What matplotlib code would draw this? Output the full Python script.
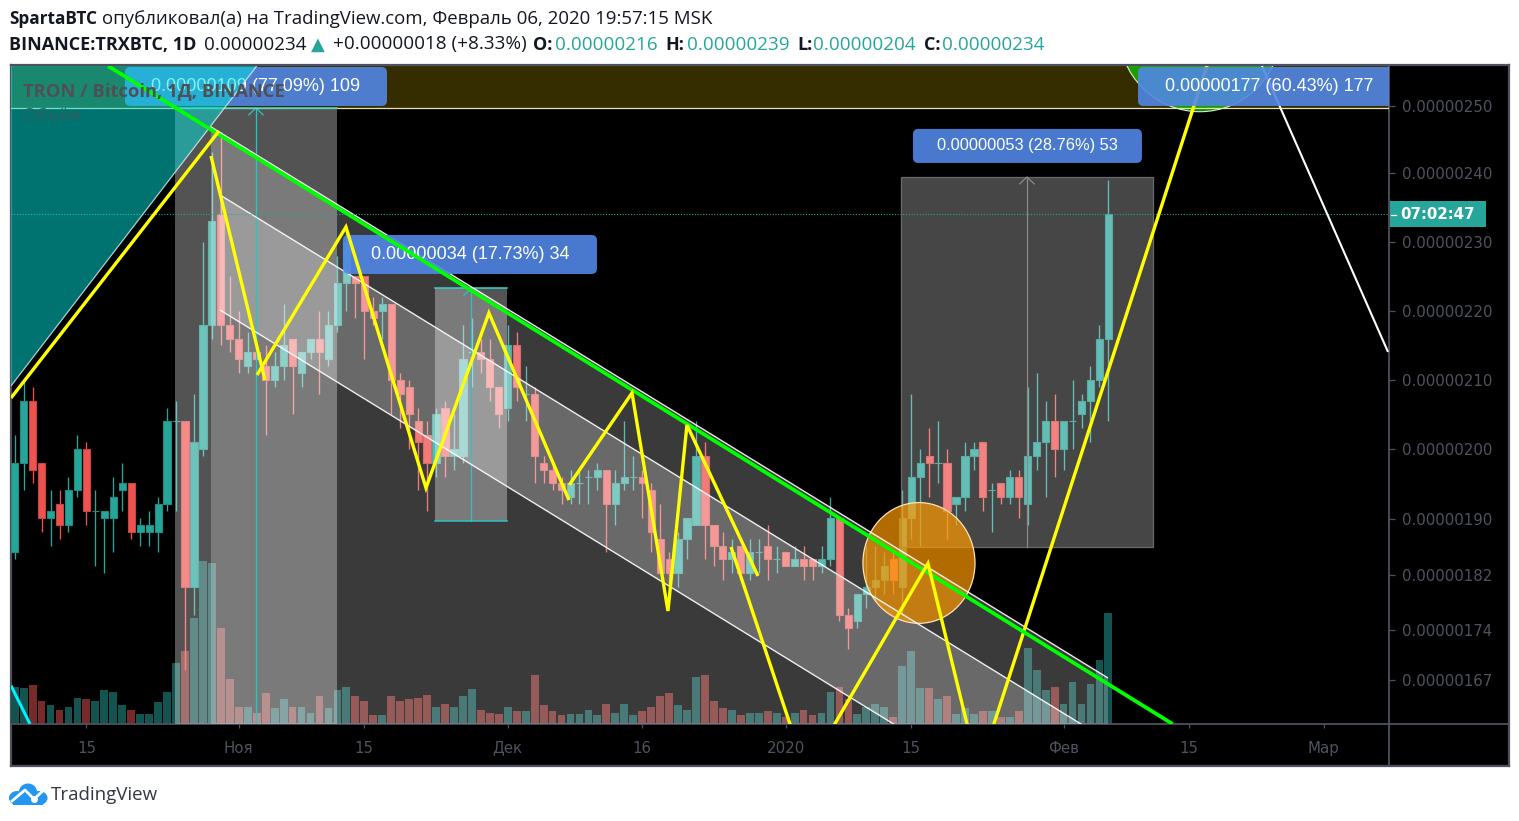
import matplotlib
matplotlib.use("Agg")
import matplotlib.pyplot as plt
from matplotlib.lines import Line2D
from matplotlib.patches import Ellipse, FancyBboxPatch, Polygon, Rectangle

# TRXBTC daily candles from 2019-10-07, prices in satoshi (1e-8 BTC), bar 0 = Oct 7
opens = [185, 198, 207, 198, 190, 192, 189, 194, 200, 191, 190, 190, 194, 195, 188, 188, 188, 192, 204, 204,
         180, 200, 218, 234, 218, 216, 212, 214, 212, 210, 212, 216, 211, 214, 216, 213, 218, 224, 225, 225,
         220, 220, 221, 210, 209, 204, 202, 198, 206, 199, 199, 214, 214, 213, 209, 206, 215, 208, 208, 198,
         197, 195, 193, 195, 196, 196, 197, 192, 195, 196, 196, 194, 187, 184, 182, 187, 189, 199, 189, 186,
         184, 186, 182, 185, 186, 184, 185, 183, 184, 184, 183, 184, 190, 176, 175, 179, 180, 181, 184, 180,
         190, 196, 199, 198, 198, 192, 193, 199, 201, 194, 195, 193, 196, 192, 199, 201, 204, 200, 204, 205,
         207, 210, 216]
highs = [202, 210, 209, 198, 194, 194, 196, 202, 201, 194, 191, 196, 198, 195, 190, 191, 193, 206, 207, 204,
         208, 230, 243, 246, 225, 220, 217, 214, 215, 214, 221, 216, 214, 216, 220, 220, 228, 232, 225, 225,
         222, 222, 221, 211, 210, 206, 204, 206, 207, 205, 218, 219, 216, 216, 209, 218, 217, 212, 209, 199,
         198, 196, 197, 197, 197, 198, 197, 197, 204, 199, 197, 195, 192, 185, 188, 190, 204, 201, 189, 188,
         187, 186, 187, 187, 189, 186, 185, 186, 186, 184, 186, 193, 190, 177, 179, 186, 186, 185, 185, 194,
         208, 200, 203, 204, 200, 193, 201, 201, 201, 195, 195, 197, 197, 209, 211, 207, 208, 204, 210, 208,
         212, 218, 239]
lows = [184, 194, 195, 188, 186, 187, 188, 193, 189, 183, 182, 185, 191, 187, 186, 186, 185, 191, 191, 168,
        176, 199, 216, 215, 214, 211, 211, 213, 202, 209, 210, 205, 209, 213, 208, 212, 217, 220, 219, 213,
        218, 216, 205, 203, 200, 194, 191, 196, 196, 197, 198, 209, 211, 207, 203, 204, 207, 204, 195, 195,
        194, 192, 192, 192, 192, 194, 185, 189, 194, 194, 190, 185, 182, 180, 180, 184, 189, 184, 183, 181,
        182, 182, 181, 182, 181, 182, 183, 183, 181, 181, 182, 183, 175, 171, 174, 177, 178, 179, 179, 176,
        187, 186, 193, 195, 187, 189, 191, 197, 191, 188, 192, 192, 190, 189, 197, 193, 196, 197, 200, 203,
        201, 209, 204]
closes = [198, 207, 197, 190, 191, 189, 194, 200, 191, 191, 191, 193, 195, 188, 189, 189, 192, 204, 204, 180,
          201, 218, 233, 218, 216, 213, 214, 213, 210, 212, 215, 212, 214, 216, 214, 218, 224, 230, 224, 220,
          219, 221, 210, 208, 205, 201, 198, 205, 199, 200, 213, 214, 213, 209, 205, 215, 209, 208, 199, 197,
          195, 194, 195, 195, 196, 197, 192, 195, 196, 196, 195, 188, 182, 182, 187, 190, 199, 189, 186, 184,
          185, 182, 185, 185, 184, 184, 183, 184, 183, 183, 184, 190, 176, 174, 179, 180, 181, 183, 181, 190,
          196, 198, 198, 198, 191, 193, 199, 200, 193, 194, 193, 196, 193, 199, 201, 204, 200, 204, 204, 207,
          210, 216, 234]
volumes = [37, 36, 39, 23, 19, 14, 17, 26, 25, 23, 34, 32, 19, 14, 10, 10, 22, 32, 61, 73,
           106, 163, 161, 96, 45, 17, 17, 11, 31, 16, 25, 17, 17, 11, 28, 16, 34, 37, 28, 23,
           9, 9, 28, 23, 25, 26, 29, 17, 20, 17, 28, 35, 14, 11, 10, 17, 13, 13, 49, 19,
           13, 9, 10, 10, 14, 9, 20, 11, 20, 9, 13, 17, 28, 31, 19, 14, 47, 49, 23, 16,
           14, 9, 11, 11, 13, 11, 7, 11, 14, 9, 11, 32, 37, 25, 10, 17, 20, 17, 7, 58,
           73, 36, 36, 25, 28, 10, 16, 10, 13, 13, 7, 7, 13, 76, 54, 34, 37, 20, 42, 20,
           40, 64, 111]

x_tick_bars = [8, 25, 39, 55, 70, 86, 100, 117, 131, 146]
x_tick_labels = ["15", "Ноя", "15", "Дек", "16", "2020", "15", "Фев", "15", "Мар"]
y_tick_prices = [249.75, 240, 230, 220, 210, 200, 189.9, 181.7, 173.8, 166.5]
y_tick_labels = ["0.00000250", "0.00000240", "0.00000230", "0.00000220", "0.00000210",
                 "0.00000200", "0.00000190", "0.00000182", "0.00000174", "0.00000167"]

# drawing tools on the chart, as (bar, price)
trend_green = [(10.41, 255.5), (129.17, 160.14)]
channel_a = [(21.9, 246.67), (121.95, 166.81)]
channel_b = [(22.9, 236.81), (122, 157.7)]
channel_c = [(22.9, 220.14), (122, 141.0)]
yellow_1 = [(-0.41, 207.39), (22.79, 246.09)]
yellow_2 = [(21.9, 242.46), (27.92, 210.0)]
yellow_3 = [(27.03, 210.72), (36.95, 232.17), (45.88, 194.35), (52.9, 219.71), (61.83, 192.6)]
yellow_4 = [(61.86, 194.78), (68.86, 208.12), (72.87, 176.52), (74.99, 203.48), (82.91, 181.59)]
yellow_5 = [(79.9, 185.8), (86.85, 158.7)]
yellow_6 = [(90.83, 158.7), (101.87, 183.41), (106.5, 158.7)]
yellow_7 = [(108.87, 158.7), (134.45, 261.4)]
white_line = [(139.13, 255.5), (153.19, 214.06)]
cyan_line = [(-0.41, 165.7), (1.71, 160.14)]
teal_wedge = [(-0.41, 209.13), (27.0, 255.5), (-0.41, 255.5)]

# price range boxes: left bar, right bar, top price, bottom price
range_box_1 = (17.88, 35.95, 249.42, 150)
range_box_2 = (46.88, 54.91, 223.26, 189.57)
range_box_3 = (98.86, 126.97, 239.42, 185.8)

# blue labels: left bar, right bar, low price, high price, text, text centre bar, text size
range_labels = [
    (12.3, 41.53, 249.71, 255.36, "0.00000109 (77.09%) 109", 26.92, 13.0),
    (36.62, 64.95, 225.36, 231.01, "0.00000034 (17.73%) 34", 50.8, 13.0),
    (100.2, 125.74, 241.45, 246.38, "0.00000053 (28.76%) 53", 112.92, 11.8),
    (125.3, 154.5, 249.71, 255.36, "0.00000177 (60.43%) 177", 139.9, 13.0),
]

W, H = 1519, 821
AX_L, AX_R, AX_T, AX_B = 11, 1389, 66, 724
GREEN, RED = "#26a69a", "#ef5350"
AXIS_COL = "#4e5160"
TEXT_COL = "#50535f"


def fx(x):
    return x / W


def fy(y):
    return 1 - y / H


def add_line(ax, pts, color, lw, z, alpha=1.0):
    xs = [p[0] for p in pts]
    ys = [p[1] for p in pts]
    ax.plot(xs, ys, color=color, lw=lw, zorder=z, alpha=alpha, solid_capstyle="butt", solid_joinstyle="miter")


fig = plt.figure(figsize=(W / 100, H / 100), dpi=100, facecolor="white")

# black frame with both price and time scales
frame = fig.add_axes([fx(10.5), fy(766), (1509 - 10.5) / W, (766 - 65.5) / H], facecolor="black", zorder=0)
frame.set_xticks([])
frame.set_yticks([])
for s in frame.spines.values():
    s.set_color(AXIS_COL)
    s.set_linewidth(1.6)

pos = [fx(AX_L), fy(AX_B), (AX_R - AX_L) / W, (AX_B - AX_T) / H]
ax_vol = fig.add_axes(pos, zorder=1, facecolor="black")
ax = fig.add_axes(pos, zorder=2)
ax.patch.set_visible(False)

x_min, x_max = -0.41, 153.3
ax.set_xlim(x_min, x_max)
ax.set_ylim(160.14, 255.5)
ax_vol.set_xlim(x_min, x_max)
ax_vol.set_ylim(0, AX_B - AX_T)
ax_vol.axis("off")

bars = list(range(len(opens)))
colors = [GREEN if c >= o else RED for o, c in zip(opens, closes)]
edges = ["#1f8c82" if c >= o else "#c9433f" for o, c in zip(opens, closes)]

ax_vol.bar(bars, volumes, width=0.87, color=["#135350" if c == GREEN else "#772a28" for c in colors])

# candles
ax.vlines(bars, lows, highs, colors=colors, lw=0.95, zorder=2)
ax.bar(bars, [c - o for o, c in zip(opens, closes)], bottom=opens, width=0.8,
       color=colors, edgecolor=edges, linewidth=0.8, zorder=3)

# translucent areas painted over the candles
ax.add_patch(Rectangle((-1, 249.42), 160, 12, color="#ffd400", alpha=0.21, lw=0, zorder=4))
a0, a1 = channel_a
ax.add_patch(Polygon([a0, a1, (a1[0], a1[1] - 200), (a0[0], a0[1] - 200)], color="white", alpha=0.23, lw=0, zorder=5))
b0, b1 = channel_b
c0, c1 = channel_c
ax.add_patch(Polygon([b0, b1, c1, c0], color="white", alpha=0.24, lw=0, zorder=5))

for left, right, top, bottom in [range_box_1, range_box_2]:
    ax.add_patch(Rectangle((left, bottom), right - left, top - bottom, color="white", alpha=0.33, lw=0, zorder=6))
    mid = (left + right) / 2
    ax.plot([mid, mid], [bottom, top], color="#2bc4c4", lw=0.9, zorder=7)
    ax.plot([mid - 0.8, mid, mid + 0.8], [top - 1, top, top - 1], color="#2bc4c4", lw=0.9, zorder=7)
    ax.plot([left, right], [bottom, bottom], color="#2bc4c4", lw=1.1, zorder=7)

left, right, top, bottom = range_box_3
ax.add_patch(Rectangle((left, bottom), right - left, top - bottom, facecolor=(1, 1, 1, 0.28),
                       edgecolor="#6a6a6a", lw=0.9, zorder=6))
mid = (left + right) / 2
ax.plot([mid, mid], [bottom, top], color="#8a8a8a", lw=0.9, zorder=7)
ax.plot([mid - 0.8, mid, mid + 0.8], [top - 1, top, top - 1], color="#8a8a8a", lw=0.9, zorder=7)

# circles (px size differs per axis, so they are ellipses in data units)
ax.add_patch(Ellipse((132.2, 260.6), 18.05, 23.45, facecolor=(0.05, 0.95, 0, 0.58),
                     edgecolor="#d8f0d0", lw=0.8, zorder=7))
ax.add_patch(Ellipse((100.87, 183.48), 12.5, 17.5, facecolor=(1, 0.6, 0, 0.7),
                     edgecolor="#ffe2b8", lw=0.9, zorder=7))

# channel lines and level lines
add_line(ax, channel_a, "white", 1.0, 9, 0.9)
add_line(ax, channel_b, "white", 1.0, 9, 0.9)
add_line(ax, channel_c, "white", 1.0, 9, 0.9)
ax.axhline(249.42, color="#e6e2b4", lw=0.9, zorder=8)
for left, right, top, bottom in [range_box_1, range_box_2]:
    ax.plot([left, right], [top, top], color="#2fd6d0", lw=1.1, zorder=8)
ax.axhline(closes[-1], color=GREEN, lw=0.8, ls=(0, (1, 1.5)), zorder=9)

# these two run under the last blue label
add_line(ax, yellow_7, "#ffff00", 2.4, 9)
add_line(ax, white_line, "white", 1.5, 9)

# blue labels
for left, right, low, high, text, text_bar, size in range_labels:
    ax.add_patch(FancyBboxPatch((left, low), right - left, high - low, boxstyle="round,pad=0,rounding_size=0.6",
                                mutation_aspect=8.965 / 6.9, facecolor="#5187e6", edgecolor="none", alpha=0.9, zorder=10))
    ax.text(text_bar, (low + high) / 2 + 0.05, text, color="white", ha="center", va="center",
            family="Liberation Sans", fontsize=size, zorder=11)

# teal wedge sits over the first label
ax.add_patch(Polygon(teal_wedge, color="#00e4de", alpha=0.5, lw=0, zorder=12))
add_line(ax, teal_wedge[:2], "#d8f2f0", 0.9, 13, 0.8)

add_line(ax, cyan_line, "#00f0ff", 2.2, 13)
add_line(ax, trend_green, "#00ff00", 2.7, 14)
for pts in [yellow_1, yellow_2, yellow_3, yellow_4, yellow_5, yellow_6]:
    add_line(ax, pts, "#ffff00", 2.4, 15)

ax.text(0.93, 251.88, "TRON / Bitcoin, 1Д, BINANCE", color="#4f4f56", family="Open Sans", fontweight="bold",
        fontsize=13.2, va="center", zorder=16)
ax.text(0.93, 248.26, "Объём", color="#2f5f60", family="Open Sans", fontsize=12.5, va="center", zorder=16)

# scales
ax.yaxis.tick_right()
ax.set_xticks(x_tick_bars)
ax.set_xticklabels(x_tick_labels, family="DejaVu Sans", fontsize=10.8, color=TEXT_COL, va="center")
ax.set_yticks(y_tick_prices)
ax.set_yticklabels(y_tick_labels, family="DejaVu Sans", fontsize=10.8, color=TEXT_COL)
ax.tick_params(axis="x", length=3, width=0.9, color=AXIS_COL, pad=14.4)
ax.tick_params(axis="y", length=4.5, width=0.9, color=AXIS_COL, pad=5)
for name, s in ax.spines.items():
    s.set_visible(name in ("right", "bottom"))
    s.set_color(AXIS_COL)
    s.set_linewidth(1.3)
fig.add_artist(Line2D([fx(AX_R), fx(AX_R)], [fy(AX_B), fy(766)], color=AXIS_COL, lw=1.3, zorder=3))
fig.add_artist(Line2D([fx(AX_R), fx(1509)], [fy(AX_B), fy(AX_B)], color=AXIS_COL, lw=1.3, zorder=3))

# countdown box on the price scale
fig.add_artist(Rectangle((fx(1390), fy(227.5)), 95.5 / W, 26 / H, transform=fig.transFigure, facecolor=GREEN, edgecolor="none", zorder=4))
fig.add_artist(Line2D([fx(1391), fx(1396)], [fy(215), fy(215)], color="white", lw=0.9, zorder=5))
fig.text(fx(1438), fy(214.5), "07:02:47", color="white", family="DejaVu Sans", fontweight="bold",
         fontsize=10.8, ha="center", va="center", zorder=5)

# header
HEAD = "Open Sans"
DARK = "#131722"
Y1, Y2 = 19.5, 44.5
fig.text(fx(9), fy(Y1), "SpartaBTC", family=HEAD, fontweight="bold", fontsize=12.4, color=DARK, va="center")
fig.text(fx(102), fy(Y1), "опубликовал(а) на TradingView.com, Февраль 06, 2020 19:57:15 MSK", family=HEAD,
         fontsize=13.45, color=DARK, va="center")
fig.text(fx(9), fy(Y2), "BINANCE:TRXBTC, 1D", family=HEAD, fontweight="bold", fontsize=13.0, color=DARK, va="center")
fig.text(fx(204), fy(Y2), "0.00000234", family=HEAD, fontsize=13.6, color=DARK, va="center")
fig.text(fx(311), fy(Y2), "▲", family="DejaVu Sans", fontsize=13, color=GREEN, va="center")
fig.text(fx(333), fy(Y2), "+0.00000018 (+8.33%)", family=HEAD, fontsize=13.6, color=DARK, va="center")
for label, lx, value, vx in [("O:", 533, "0.00000216", 555), ("H:", 665, "0.00000239", 687),
                             ("L:", 797, "0.00000204", 813), ("C:", 924, "0.00000234", 942)]:
    fig.text(fx(lx), fy(Y2), label, family=HEAD, fontweight="bold", fontsize=13.0, color=DARK, va="center")
    fig.text(fx(vx), fy(Y2), value, family=HEAD, fontsize=13.6, color=GREEN, va="center")

# TradingView logo
logo = fig.add_axes([fx(8), fy(808), 42 / W, 28 / H], zorder=5)
logo.set_xlim(8, 50)
logo.set_ylim(808, 780)
logo.axis("off")
for cx, cy, rx, ry in [(17, 798, 8, 7), (28, 792, 9, 8.5), (39, 798, 8.5, 7)]:
    logo.add_patch(Ellipse((cx, cy), 2 * rx, 2 * ry, color="#2196f3", lw=0))
logo.add_patch(Rectangle((13, 797), 30, 8, color="#2196f3", lw=0))
logo.plot([12, 25, 34, 45], [801, 790, 799, 789], color="white", lw=2.0)
logo.plot([34], [799], "o", color="white", ms=4)
fig.text(fx(51), fy(794.5), "TradingView", family=HEAD, fontsize=13.5, color="#333742", va="center")

fig.savefig("out.png", dpi=100)
